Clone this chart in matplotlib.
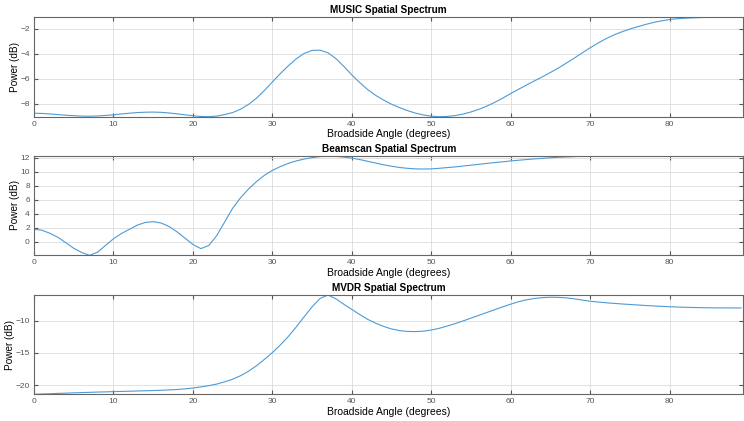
import numpy as np
import matplotlib
matplotlib.use('Agg')
import matplotlib.pyplot as plt

plt.rcParams['font.family'] = ['Liberation Sans', 'DejaVu Sans']

# scan angles, one sample per degree
angles = np.arange(0, 90)

music_db = [
    -8.77, -8.79, -8.83, -8.88, -8.93, -8.97, -9.00, -9.01, -8.99, -8.95,
    -8.90, -8.83, -8.77, -8.72, -8.69, -8.68, -8.70, -8.75, -8.82, -8.90,
    -8.97, -9.03, -9.05, -9.00, -8.88, -8.72, -8.45, -8.07, -7.57, -6.95,
    -6.27, -5.60, -4.98, -4.42, -3.98, -3.74, -3.72, -3.93, -4.40, -5.02,
    -5.70, -6.32, -6.88, -7.34, -7.72, -8.05, -8.32, -8.56, -8.76, -8.91,
    -9.01, -9.05, -9.03, -8.96, -8.84, -8.67, -8.46, -8.20, -7.90, -7.56,
    -7.20, -6.85, -6.51, -6.18, -5.85, -5.51, -5.15, -4.76, -4.36, -3.94,
    -3.53, -3.15, -2.80, -2.50, -2.25, -2.03, -1.84, -1.66, -1.50, -1.37,
    -1.27, -1.20, -1.16, -1.13, -1.11, -1.10, -1.09, -1.09, -1.09, -1.09,
]

beamscan_db = [
    1.81, 1.67, 1.24, 0.67, -0.10, -0.90, -1.50, -1.90, -1.45, -0.50,
    0.45, 1.20, 1.80, 2.40, 2.78, 2.90, 2.70, 2.20, 1.45, 0.55,
    -0.35, -0.95, -0.50, 0.90, 2.85, 4.80, 6.30, 7.55, 8.60, 9.50,
    10.20, 10.75, 11.20, 11.55, 11.82, 12.02, 12.17, 12.25, 12.20, 12.10,
    11.95, 11.75, 11.50, 11.25, 11.00, 10.80, 10.62, 10.50, 10.42, 10.40,
    10.42, 10.50, 10.60, 10.70, 10.82, 10.95, 11.07, 11.20, 11.32, 11.43,
    11.55, 11.65, 11.75, 11.84, 11.92, 12.00, 12.07, 12.12, 12.17, 12.21,
    12.24, 12.26, 12.27, 12.28, 12.29, 12.29, 12.30, 12.30, 12.30, 12.30,
    12.30, 12.30, 12.30, 12.30, 12.30, 12.30, 12.30, 12.30, 12.30, 12.30,
]

mvdr_db = [
    -21.45, -21.40, -21.36, -21.31, -21.27, -21.22, -21.18, -21.14, -21.10, -21.07,
    -21.03, -21.00, -20.97, -20.93, -20.90, -20.86, -20.82, -20.76, -20.70, -20.60,
    -20.47, -20.30, -20.10, -19.85, -19.50, -19.10, -18.55, -17.85, -17.00, -16.00,
    -14.95, -13.75, -12.45, -10.95, -9.35, -7.80, -6.50, -5.95, -6.55, -7.40,
    -8.20, -9.00, -9.75, -10.35, -10.85, -11.25, -11.50, -11.64, -11.66, -11.60,
    -11.42, -11.15, -10.80, -10.42, -10.00, -9.56, -9.12, -8.68, -8.24, -7.80,
    -7.38, -7.00, -6.70, -6.49, -6.36, -6.30, -6.32, -6.40, -6.55, -6.74,
    -6.92, -7.05, -7.16, -7.26, -7.35, -7.43, -7.51, -7.59, -7.66, -7.72,
    -7.78, -7.83, -7.87, -7.90, -7.93, -7.95, -7.96, -7.97, -7.97, -7.97,
]

titles = ['MUSIC Spatial Spectrum', 'Beamscan Spatial Spectrum', 'MVDR Spatial Spectrum']
series = [music_db, beamscan_db, mvdr_db]
yticks = [[-8, -6, -4, -2], [0, 2, 4, 6, 8, 10, 12], [-20, -15, -10]]
xticks = [0, 10, 20, 30, 40, 50, 60, 70, 80]

fig = plt.figure(figsize=(7.44, 4.21), dpi=100)
boxes = [[0.0457, 0.7228, 0.9536, 0.2361],
         [0.0457, 0.3936, 0.9536, 0.2366],
         [0.0457, 0.0634, 0.9536, 0.2359]]

for box, title, vals, yt in zip(boxes, titles, series, yticks):
    ax = fig.add_axes(box)
    ax.plot(angles, vals, color='#4d9bd6', lw=0.8)
    ax.set_xlim(0, 89.3)
    ax.set_ylim(min(vals), max(vals))
    ax.set_xticks(xticks)
    ax.set_yticks(yt)
    ax.grid(True, color='#dcdcdc', lw=0.6)
    ax.set_axisbelow(True)
    ax.tick_params(direction='in', length=3, width=0.8, color='#555555',
                   labelsize=6, labelcolor='#555555', top=True, right=True,
                   pad=3)
    for s in ax.spines.values():
        s.set_color('#666666')
        s.set_linewidth(0.8)
    ax.set_title(title, fontsize=7.2, fontweight='bold', pad=3)
    ax.set_xlabel('Broadside Angle (degrees)', fontsize=7.5, labelpad=1)
    ax.set_ylabel('Power (dB)', fontsize=7.2, labelpad=0)

fig.savefig('out.png', dpi=100)
